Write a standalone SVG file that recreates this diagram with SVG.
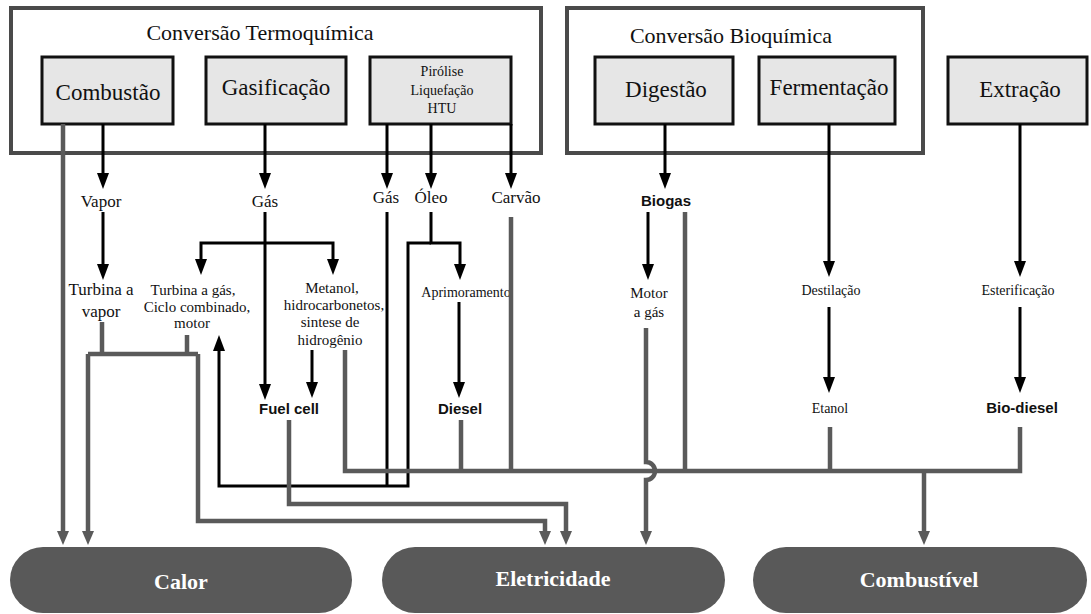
<svg xmlns="http://www.w3.org/2000/svg" width="1091" height="614" viewBox="0 0 1091 614">
<style>
.t{font-family:"Liberation Serif","Times New Roman",serif;fill:#111;text-anchor:middle}
.b{font-family:"Liberation Sans",Arial,sans-serif;font-weight:bold;fill:#111;text-anchor:middle;font-size:15px}
.grp{fill:#fff;stroke:#4a4a4a;stroke-width:4}
.box{fill:#e6e6e6;stroke:#111;stroke-width:3}
.k{fill:none;stroke:#000;stroke-width:3}
.g{fill:none;stroke:#5a5a5a;stroke-width:4.5}
.pill{fill:#595959}
.pt{font-family:"Liberation Serif","Times New Roman",serif;font-weight:bold;font-size:22px;fill:#fff;text-anchor:middle}
.s15{font-size:15px}.s14{font-size:14px}.s17{font-size:17px}.s23{font-size:23px}.s22{font-size:22px}
</style>
<defs>
<marker id="ak" markerUnits="userSpaceOnUse" markerWidth="16" markerHeight="12" viewBox="0 0 16 12" refX="8" refY="6" orient="auto"><path d="M0,0 L16,6 L0,12 z" fill="#000"/></marker>
<marker id="ag" markerUnits="userSpaceOnUse" markerWidth="14" markerHeight="12" viewBox="0 0 14 12" refX="7" refY="6" orient="auto"><path d="M0,0 L14,6 L0,12 z" fill="#5a5a5a"/></marker>
</defs>
<rect width="1091" height="614" fill="#fff"/>

<g id="termoquimica">
<rect class="grp" x="11" y="8" width="530" height="145"/>
<text class="t s22" x="260" y="40">Conversão Termoquímica</text>
</g>
<g id="bioquimica">
<rect class="grp" x="567" y="8" width="356" height="145"/>
<text class="t s22" x="731" y="43">Conversão Bioquímica</text>
</g>
<g id="combustao"><rect class="box" x="42" y="57" width="131" height="67"/><text class="t s23" x="108" y="100">Combustão</text></g>
<g id="gasificacao"><rect class="box" x="206" y="57" width="140" height="67"/><text class="t s23" x="276" y="95">Gasificação</text></g>
<g id="pirolise"><rect class="box" x="370" y="57" width="141" height="67"/>
<text class="t s14" x="442" y="76">Pirólise</text><text class="t s14" x="442" y="95">Liquefação</text><text class="t s14" x="442" y="113">HTU</text></g>
<g id="digestao"><rect class="box" x="595" y="57" width="138" height="67"/><text class="t s23" x="666" y="97">Digestão</text></g>
<g id="fermentacao"><rect class="box" x="759" y="57" width="136" height="67"/><text class="t s23" x="829" y="95">Fermentação</text></g>
<g id="extracao"><rect class="box" x="948" y="57" width="139" height="67"/><text class="t s23" x="1020" y="97">Extração</text></g>

<g id="vapor"><text class="t s17" x="101" y="207">Vapor</text></g>
<g id="gas1"><text class="t s17" x="265" y="207">Gás</text></g>
<g id="gas2"><text class="t s17" x="386" y="203">Gás</text></g>
<g id="oleo"><text class="t s17" x="431" y="203">Óleo</text></g>
<g id="carvao"><text class="t s17" x="516" y="203">Carvão</text></g>
<g id="biogas"><text class="b" x="666" y="206">Biogas</text></g>
<g id="turbina-vapor"><text class="t s17" x="101" y="295">Turbina a</text><text class="t s17" x="101" y="317">vapor</text></g>
<g id="turbina-gas"><text class="t s15" x="193" y="295">Turbina  a gás,</text><text class="t s15" x="197" y="312">Ciclo  combinado,</text><text class="t s15" x="192" y="328">motor</text></g>
<g id="metanol"><text class="t s15" x="332" y="293">Metanol,</text><text class="t s15" x="334" y="310">hidrocarbonetos,</text><text class="t s15" x="330" y="327">sintese  de</text><text class="t s15" x="330" y="345">hidrogênio</text></g>
<g id="aprimoramento"><text class="t s14" x="466" y="297">Aprimoramento</text></g>
<g id="fuelcell"><text class="b" x="289" y="414">Fuel cell</text></g>
<g id="diesel"><text class="b" x="460" y="414">Diesel</text></g>
<g id="motor-gas"><text class="t s15" x="649" y="298">Motor</text><text class="t s15" x="649" y="317">a gás</text></g>
<g id="destilacao"><text class="t s14" x="831" y="295">Destilação</text></g>
<g id="etanol"><text class="t s14" x="830" y="413">Etanol</text></g>
<g id="esterificacao"><text class="t s14" x="1018" y="295">Esterificação</text></g>
<g id="biodiesel"><text class="b" x="1022" y="413">Bio-diesel</text></g>

<g id="connectors">
<g class="k" marker-end="url(#ak)">
<path d="M103,124 V181"/>
<path d="M265,124 V181"/>
<path d="M387,124 V181"/>
<path d="M431,124 V181"/>
<path d="M511,124 V181"/>
<path d="M665,124 V181"/>
<path d="M103,212 V272"/>
<path d="M265,212 V392"/>
<path d="M265,243 H201 V267"/>
<path d="M265,243 H333 V267"/>
<path d="M431,212 V243 H460 V272"/>
<path d="M431,243 H408 V486 H219 V343"/>
<path d="M312,350 V390"/>
<path d="M459,302 V390"/>
<path d="M648,212 V272"/>
<path d="M829,124 V269"/>
<path d="M829,307 V385"/>
<path d="M1020,124 V269"/>
<path d="M1020,307 V385"/>
</g>
<path class="k" d="M387,212 V486"/>
<g class="g">
<path d="M63,124 V538" marker-end="url(#ag)"/>
<path d="M102,322 V354 M187,335 V354 M88,354 H198"/>
<path d="M88,354 V538" marker-end="url(#ag)"/>
<path d="M198,354 V521 H545 V538" marker-end="url(#ag)"/>
<path d="M289,420 V504 H566 V538" marker-end="url(#ag)"/>
<path d="M646,328 V462 A9,9 0 0 1 646,480 V538" marker-end="url(#ag)"/>
<path d="M345,350 V471 H1020 V427"/>
<path d="M461,420 V471 M511,217 V471 M685,212 V471 M830,427 V471"/>
<path d="M924,471 V538" marker-end="url(#ag)"/>
</g>
</g>

<g id="calor"><rect class="pill" x="10" y="547" width="342" height="66" rx="33"/><text class="pt" x="181" y="589">Calor</text></g>
<g id="eletricidade"><rect class="pill" x="382" y="547" width="343" height="66" rx="33"/><text class="pt" x="553" y="586">Eletricidade</text></g>
<g id="combustivel"><rect class="pill" x="753" y="547" width="334" height="66" rx="33"/><text class="pt" x="919" y="587">Combustível</text></g>
</svg>
